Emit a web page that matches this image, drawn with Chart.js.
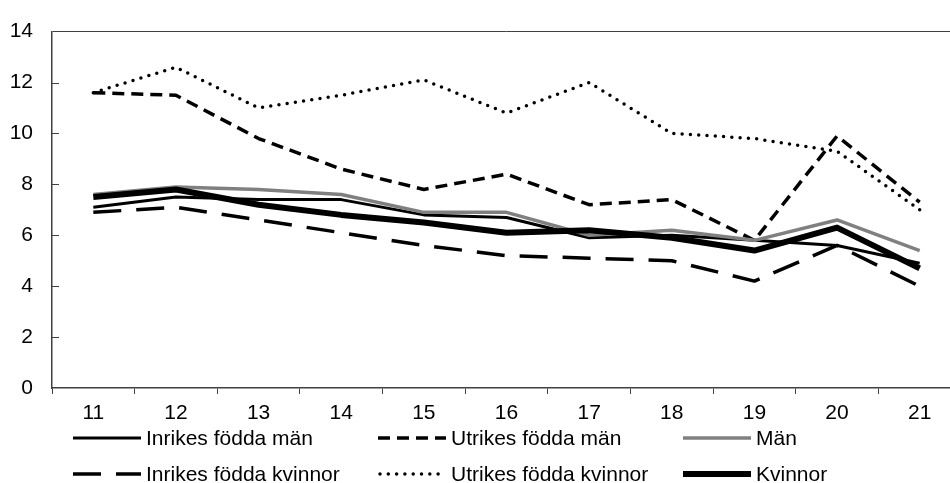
<!DOCTYPE html>
<html>
<head>
<meta charset="utf-8">
<script src="https://cdn.jsdelivr.net/npm/chart.js@4"></script>
<style>
    body { margin: 0; background: #fff; overflow: hidden; }
    #wrap { position: relative; width: 950px; height: 483px; overflow: hidden; font-family: "Liberation Sans", Arial, sans-serif; }
    #chart { position: absolute; left: 0; top: 0; }
    .item { position: absolute; height: 24px; line-height: 24px; font-size: 21px; color: #000; white-space: nowrap; }
    .item svg { position: absolute; left: 0; top: 0; }
    .item span { position: absolute; top: 0; }
</style>
</head>
<body>
<div id="wrap">
    <!-- plot runs past the right edge in the original, so the canvas is a bit wider than the page -->
    <canvas id="chart" width="961" height="483"></canvas>
    <div id="legend"></div>
</div>
<script>
const years = ['11', '12', '13', '14', '15', '16', '17', '18', '19', '20', '21'];
const inrikesMan = [7.1, 7.5, 7.4, 7.4, 6.8, 6.7, 5.9, 6.0, 5.8, 5.6, 4.9];
const utrikesMan = [11.6, 11.5, 9.8, 8.6, 7.8, 8.4, 7.2, 7.4, 5.8, 9.9, 7.3];
const man = [7.6, 7.9, 7.8, 7.6, 6.9, 6.9, 6.0, 6.2, 5.8, 6.6, 5.4];
const inrikesKvinnor = [6.9, 7.1, 6.6, 6.1, 5.6, 5.2, 5.1, 5.0, 4.2, 5.6, 4.0];
const utrikesKvinnor = [11.6, 12.6, 11.0, 11.5, 12.1, 10.8, 12.0, 10.0, 9.8, 9.3, 7.0];
const kvinnor = [7.5, 7.8, 7.2, 6.8, 6.5, 6.1, 6.2, 5.9, 5.4, 6.3, 4.7];
const yTicks = [0, 2, 4, 6, 8, 10, 12, 14];

const axisColor = '#404040';

const series = [
    { label: 'Inrikes födda män', data: inrikesMan, color: '#000', width: 3, dash: [] },
    { label: 'Utrikes födda män', data: utrikesMan, color: '#000', width: 3.5, dash: [12, 7] },
    { label: 'Män', data: man, color: '#808080', width: 3.5, dash: [] },
    { label: 'Inrikes födda kvinnor', data: inrikesKvinnor, color: '#000', width: 3.5, dash: [28, 15] },
    { label: 'Utrikes födda kvinnor', data: utrikesKvinnor, color: '#000', width: 3.5, dash: [0, 8.3], cap: 'round' },
    { label: 'Kvinnor', data: kvinnor, color: '#000', width: 6, dash: [] }
];

// tick marks on the inside of the y axis
const innerTicks = {
    id: 'innerTicks',
    afterDraw(chart) {
        const ctx = chart.ctx;
        const y = chart.scales.y;
        const left = chart.chartArea.left;
        ctx.save();
        ctx.strokeStyle = axisColor;
        ctx.lineWidth = 1;
        yTicks.forEach(v => {
            if (v === 0 || v === 14) return;
            const py = Math.round(y.getPixelForValue(v)) + 0.5;
            ctx.beginPath();
            ctx.moveTo(left, py);
            ctx.lineTo(left + 7, py);
            ctx.stroke();
        });
        ctx.restore();
    }
};

new Chart(document.getElementById('chart'), {
    type: 'line',
    data: {
        labels: years,
        datasets: series.map((s, i) => ({
            label: s.label,
            data: s.data,
            borderColor: s.color,
            borderWidth: s.width,
            borderDash: s.dash,
            borderCapStyle: s.cap || 'butt',
            borderJoinStyle: 'round',
            pointRadius: 0,
            tension: 0,
            fill: false,
            order: series.length - i
        }))
    },
    options: {
        responsive: false,
        animation: false,
        layout: {
            padding: { left: 0, top: 23, right: 0, bottom: 0 }
        },
        plugins: {
            legend: { display: false },
            tooltip: { enabled: false }
        },
        scales: {
            x: {
                offset: true,
                afterFit: scale => { scale.height = 95; },
                grid: {
                    offset: true,
                    drawOnChartArea: false,
                    tickLength: 6,
                    color: axisColor
                },
                border: { color: axisColor, width: 1.5 },
                ticks: {
                    padding: 7,
                    color: '#000',
                    font: { family: 'Liberation Sans', size: 21 }
                }
            },
            y: {
                min: 0,
                max: 14,
                afterFit: scale => { scale.width = 52; },
                afterBuildTicks: scale => { scale.ticks = yTicks.map(v => ({ value: v })); },
                grid: {
                    drawTicks: false,
                    color: ctx => ctx.tick && ctx.tick.value === 14 ? axisColor : 'rgba(0,0,0,0)'
                },
                border: { color: axisColor, width: 1.5 },
                ticks: {
                    padding: 19,
                    color: '#000',
                    font: { family: 'Liberation Sans', size: 21 }
                }
            }
        }
    },
    plugins: [innerTicks]
});

// legend laid out as a 3 x 2 grid like the original
const colX = [73, 378, 683];
const rowY = [438, 474];
const legend = document.getElementById('legend');
series.forEach((s, i) => {
    const col = i % 3, row = Math.floor(i / 3);
    const item = document.createElement('div');
    item.className = 'item';
    item.style.left = colX[col] + 'px';
    item.style.top = (rowY[row] - 12) + 'px';
    const dash = s.dash.length ? `stroke-dasharray="${s.dash.join(' ')}"` : '';
    const cap = s.cap || 'butt';
    item.innerHTML =
        `<svg width="70" height="24"><line x1="${cap === 'round' ? 2 : 0}" y1="12" x2="68" y2="12" stroke="${s.color}" stroke-width="${s.width}" stroke-linecap="${cap}" ${dash}/></svg>` +
        `<span style="left:73px">${s.label}</span>`;
    legend.appendChild(item);
});
</script>
</body>
</html>
